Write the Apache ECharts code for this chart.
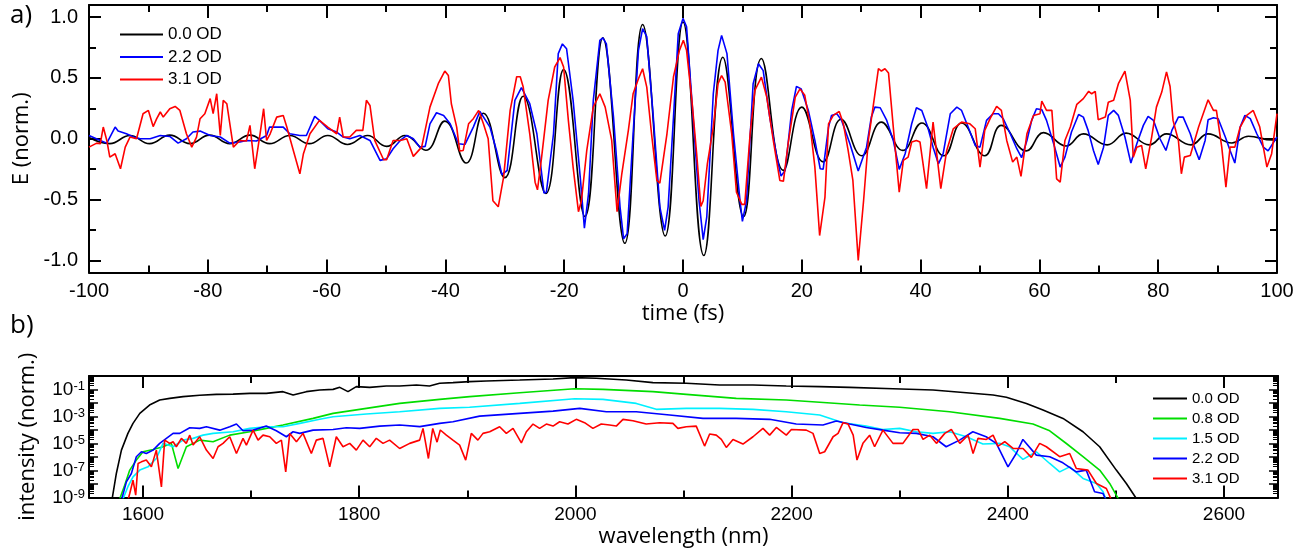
<!DOCTYPE html>
<html><head><meta charset="utf-8">
<script src="https://cdn.jsdelivr.net/npm/echarts@6/dist/echarts.min.js"></script>
<style>html,body{margin:0;padding:0;background:#fff}#c{width:1307px;height:550px}</style>
</head><body><div id="c"></div>
<script>
// ---------- panel a: electric field E(t), [time fs, E norm.] ----------
const e00 = [[-100,0.01],[-96.5,-0.04],[-93.1,0.027],[-89.8,-0.04],[-86.4,0.03],[-83.0,-0.04],[-79.7,0.03],[-76.3,-0.04],[-72.9,0.03],[-69.6,-0.04],[-66.2,0.027],[-62.9,-0.04],[-59.8,0.027],[-56.5,-0.047],[-53.1,0.027],[-49.9,-0.063],[-46.8,0.027],[-43.3,-0.095],[-40.1,0.145],[-36.5,-0.2],[-33.6,0.21],[-30.0,-0.32],[-26.9,0.35],[-23.1,-0.45],[-20.1,0.57],[-16.5,-0.64],[-13.5,0.83],[-9.8,-0.86],[-6.8,0.94],[-3.0,-0.80],[0.0,0.96],[3.5,-0.96],[6.7,0.67],[10.2,-0.64],[13.2,0.66],[16.9,-0.26],[20.0,0.26],[23.6,-0.19],[26.6,0.16],[30.1,-0.14],[33.4,0.137],[37.0,-0.096],[40.2,0.13],[43.9,-0.14],[46.9,0.13],[50.8,-0.14],[53.6,0.11],[57.8,-0.1],[60.7,0.05],[64.5,-0.06],[67.4,0.04],[71.4,-0.05],[74.6,0.046],[78.5,-0.05],[81.4,0.04],[85.5,-0.05],[88.4,0.04],[92.4,-0.035],[95.2,0.02],[99.2,-0.01],[100,-0.01]];

const e22 = [[-100,0.027],[-98.1,-0.014],[-97.0,-0.036],[-95.6,0.096],[-95.1,0.063],[-93.7,0.041],[-92.5,0.014],[-91.4,0],[-89.7,0],[-88.0,0.027],[-86.4,0.019],[-85.0,-0.036],[-83.6,0],[-82.5,0.055],[-81.3,0.063],[-79.6,0.027],[-77.9,0.014],[-76.3,-0.036],[-74.6,-0.027],[-73.5,-0.014],[-71.8,-0.019],[-70.1,0.027],[-69.6,0.096],[-67.3,0.096],[-66.2,0.041],[-64.5,0.027],[-63.4,0.027],[-62.0,0.184],[-61.2,0.151],[-59.8,0.082],[-58.3,0.055],[-57.2,0.014],[-56.1,0],[-54.4,0.027],[-52.7,-0.014],[-51.0,-0.178],[-49.9,-0.165],[-48.8,-0.082],[-47.6,-0.014],[-46.5,0.027],[-45.4,0],[-44.3,-0.069],[-43.4,-0.063],[-42.6,0.123],[-41.5,0.214],[-40.3,0.192],[-39.2,0.123],[-37.8,-0.041],[-36.7,-0.047],[-35.3,0.096],[-34.2,0.225],[-32.5,0.096],[-31.4,-0.096],[-30.5,-0.294],[-29.6,-0.261],[-28.3,0.316],[-27.2,0.42],[-25.8,0.288],[-24.6,0.041],[-23.4,-0.447],[-23.0,-0.44],[-21.8,0.041],[-21.0,0.70],[-20.3,0.78],[-19.6,0.74],[-18.5,0.316],[-17.3,-0.315],[-16.6,-0.735],[-15.9,-0.45],[-15.1,0.316],[-14.0,0.81],[-13.5,0.83],[-12.9,0.78],[-11.7,0.178],[-10.6,-0.56],[-10.0,-0.823],[-9.4,-0.78],[-8.4,0.041],[-7.5,0.727],[-6.8,0.905],[-6.1,0.84],[-5.0,0.178],[-3.9,-0.56],[-3.1,-0.754],[-2.5,-0.56],[-1.6,0.178],[-0.8,0.864],[0,0.99],[0.6,0.92],[1.7,0.178],[2.7,-0.51],[3.4,-0.83],[4.0,-0.645],[5.1,0.37],[5.9,0.727],[6.5,0.85],[7.4,0.70],[8.5,0.041],[9.6,-0.51],[10.0,-0.68],[10.7,-0.51],[11.8,0.45],[12.7,0.617],[13.5,0.56],[14.6,0.178],[15.8,-0.151],[16.5,-0.307],[17.2,-0.261],[18.3,0.233],[19.1,0.43],[19.9,0.41],[21.1,0.233],[22.2,-0.014],[23.1,-0.247],[23.6,-0.25],[24.5,0.096],[25.0,0.192],[25.9,0.206],[26.7,0.151],[28.1,-0.041],[29.5,-0.266],[30.9,-0.069],[31.7,0.178],[32.3,0.26],[33.2,0.255],[34.3,0.151],[35.4,-0.014],[36.4,-0.252],[37.4,-0.123],[38.5,0.123],[39.3,0.255],[40.2,0.233],[41.2,0.096],[42.1,-0.069],[43.0,-0.206],[43.8,-0.123],[45.0,0.206],[46.1,0.26],[46.9,0.233],[48.0,0.096],[49.2,-0.055],[50.0,-0.069],[51.1,0.151],[52.2,0.206],[53.1,0.206],[53.9,0.165],[55.1,0.041],[56.2,-0.082],[57.0,-0.156],[57.9,-0.014],[58.7,0.151],[59.5,0.247],[60.4,0.239],[61.2,0.151],[62.4,-0.041],[63.5,-0.233],[64.3,-0.151],[65.4,0.055],[66.6,0.20],[67.4,0.178],[68.2,0.069],[69.1,-0.096],[69.9,-0.211],[70.8,-0.069],[71.6,0.192],[72.5,0.233],[73.3,0.192],[74.4,0.014],[75.4,-0.2],[76.4,-0.041],[77.5,0.11],[78.3,0.184],[79.2,0.151],[80.3,0],[81.3,-0.096],[82.3,0.069],[83.4,0.178],[84.2,0.178],[85.4,0.041],[86.1,-0.069],[86.9,-0.173],[87.9,-0.014],[88.4,0.156],[89.3,0.173],[90.1,0.165],[91.3,0.014],[92.1,-0.096],[92.9,-0.2],[93.8,0.096],[94.6,0.192],[95.5,0.165],[96.6,0.041],[97.7,-0.069],[98.5,-0.1],[100,0.014]];

const e31 = [[-100,-0.069],[-98.7,-0.036],[-98.1,-0.041],[-97.6,0.096],[-97.0,-0.014],[-96.5,-0.151],[-95.6,-0.123],[-94.7,-0.247],[-93.9,-0.069],[-93.1,0.014],[-92.0,0],[-90.9,0.206],[-90.0,0.233],[-89.2,0.10],[-88.6,0.165],[-88.0,0.22],[-87.5,0.178],[-86.4,0.247],[-85.5,0.266],[-84.7,0.233],[-83.6,0.041],[-82.7,-0.069],[-81.9,0.014],[-81.3,0.165],[-80.5,0.206],[-79.6,0.33],[-79.1,0.206],[-78.5,0.37],[-77.9,0.027],[-77.4,0.316],[-76.8,0.288],[-75.7,-0.069],[-74.6,-0.014],[-73.5,-0.019],[-72.9,0.11],[-72.1,-0.247],[-71.2,0.041],[-70.6,0.247],[-70.1,-0.014],[-69.5,0.041],[-68.4,0.178],[-67.3,0.192],[-66.7,0.096],[-65.6,-0.096],[-64.5,-0.288],[-63.9,-0.123],[-62.8,0.041],[-61.2,0.151],[-59.8,0.096],[-58.3,0.041],[-57.8,0.178],[-57.2,0.014],[-56.1,0.014],[-55.0,0.069],[-53.9,0.069],[-53.3,0.316],[-52.7,0.274],[-51.9,-0.014],[-50.4,-0.173],[-49.9,-0.173],[-48.8,-0.014],[-47.6,-0.014],[-46.5,0],[-45.4,-0.145],[-44.0,-0.069],[-42.6,0.26],[-41.2,0.453],[-40.1,0.557],[-39.5,0.52],[-39.0,0.288],[-38.1,0.096],[-37.6,-0.1],[-37.0,-0.096],[-36.1,0.123],[-35.3,0.165],[-34.4,0.233],[-33.6,0.123],[-32.8,0],[-32.0,-0.51],[-31.1,-0.56],[-30.2,-0.315],[-29.1,0.233],[-28.0,0.51],[-27.4,0.51],[-26.9,0.425],[-25.8,0.041],[-24.9,-0.357],[-24.5,-0.42],[-23.8,-0.151],[-22.7,0.316],[-21.6,0.59],[-20.7,0.667],[-20.1,0.59],[-19.3,0.151],[-18.5,-0.233],[-17.6,-0.60],[-17.1,-0.51],[-16.2,-0.096],[-15.1,0.26],[-14.0,0.37],[-13.1,0.26],[-12.0,-0.014],[-11.1,-0.60],[-10.3,-0.288],[-9.2,0.069],[-8.4,0.37],[-7.5,0.494],[-6.8,0.576],[-6.1,0.425],[-5.3,0.041],[-4.4,-0.343],[-3.9,-0.365],[-2.7,0.041],[-1.6,0.51],[-0.6,0.727],[0.06,0.81],[0.6,0.727],[1.5,0.316],[2.3,-0.123],[3.0,-0.557],[3.4,-0.51],[4.1,-0.206],[5.1,0.096],[5.9,0.453],[6.5,0.52],[7.1,0.466],[8.2,0.041],[9.0,-0.44],[9.9,-0.54],[10.4,-0.54],[11.3,0.041],[12.1,0.398],[13.2,0.507],[14.1,0.343],[15.2,-0.014],[16.3,-0.343],[16.9,-0.35],[17.7,-0.041],[18.9,0.343],[19.7,0.41],[20.5,0.357],[21.4,0.11],[22.2,-0.233],[23.0,-0.796],[23.9,-0.48],[24.5,0.123],[25.3,0.192],[26.3,0.225],[27.0,0.123],[27.8,-0.096],[28.6,-0.343],[29.5,-1.0],[30.4,-0.51],[31.2,-0.014],[32.0,0.26],[32.9,0.576],[33.4,0.557],[34.0,0.576],[34.6,0.54],[35.4,0.096],[36.4,-0.44],[37.1,-0.178],[37.9,-0.151],[38.5,-0.027],[39.3,-0.014],[39.9,-0.027],[41.0,-0.41],[42.1,0.137],[43.4,-0.41],[44.4,-0.096],[45.5,0.082],[46.9,0.137],[48.3,0.123],[49.2,0.082],[50.0,-0.233],[50.8,0.069],[51.7,0.165],[52.8,0.266],[53.6,0.233],[54.5,-0.014],[55.5,-0.192],[56.2,-0.151],[56.9,-0.31],[57.9,0.041],[59.0,0.192],[60.1,0.206],[60.4,0.31],[61.2,0.233],[62.1,0.233],[62.9,-0.33],[63.5,-0.357],[64.3,-0.014],[65.2,0.096],[66.3,0.283],[67.4,0.33],[68.3,0.39],[68.8,0.37],[69.4,0.39],[69.9,0.156],[71.1,0.178],[71.6,0.30],[72.5,0.316],[73.3,0.453],[74.4,0.557],[75.3,0.316],[75.8,-0.151],[76.4,-0.069],[77.2,-0.055],[77.9,-0.247],[78.9,0.014],[79.7,0.26],[80.6,0.384],[81.4,0.55],[82.0,0.43],[82.5,0.151],[83.4,-0.014],[83.9,-0.288],[84.4,-0.151],[85.4,-0.137],[86.8,0.096],[88.4,0.32],[89.3,0.233],[89.8,0.233],[90.7,-0.069],[91.4,-0.398],[92.1,-0.069],[92.9,-0.069],[93.8,0.096],[94.9,0.192],[96.0,0.233],[97.1,0.096],[98.3,-0.233],[99.1,-0.123],[100,0.206]];

// ---------- panel b: spectra, [wavelength nm, log10(intensity)] ----------
const s00 = [[1571,-9.3],[1575.3,-7.22],[1580,-5.49],[1586,-4.25],[1590.7,-3.51],[1597,-2.77],[1606,-2.15],[1615.4,-1.78],[1624.7,-1.66],[1637,-1.53],[1652.4,-1.43],[1667.8,-1.36],[1683.3,-1.34],[1698.7,-1.29],[1714,-1.29],[1729.5,-1.16],[1738.8,-1.41],[1751,-1.16],[1763.4,-1.04],[1775.8,-0.99],[1782,-0.84],[1789.6,-1.16],[1797.3,-0.79],[1809.7,-0.84],[1825,-0.74],[1837.4,-0.74],[1852.9,-0.67],[1865,-0.74],[1874.4,-0.54],[1886.7,-0.49],[1902,-0.42],[1917.6,-0.37],[1948.5,-0.30],[1979.3,-0.22],[1999.3,-0.12],[2019.4,-0.17],[2047,-0.30],[2071.7,-0.49],[2102.6,-0.54],[2133.4,-0.67],[2164.3,-0.67],[2195.1,-0.74],[2226,-0.79],[2253.7,-0.84],[2293.8,-0.94],[2330.8,-1.04],[2361.7,-1.24],[2386.4,-1.41],[2398.7,-1.58],[2417.2,-2.03],[2432.6,-2.52],[2451.1,-3.14],[2469.6,-4.13],[2485,-5.24],[2500.4,-6.97],[2509.7,-7.96],[2518.3,-9.0],[2520,-9.3]];

const s08 = [[1578,-9.2],[1583,-8.09],[1587.7,-6.97],[1593.8,-6.23],[1600,-5.61],[1609.3,-5.44],[1618.5,-5.24],[1626.2,-4.99],[1632.4,-6.85],[1640.1,-5.24],[1652.4,-4.75],[1664.8,-4.87],[1680.2,-4.38],[1698.7,-4.13],[1714,-3.88],[1729.5,-3.63],[1757.3,-3.14],[1775.8,-2.77],[1806.6,-2.40],[1837.4,-2.03],[1874.4,-1.73],[1902.2,-1.53],[1948.4,-1.24],[1999.3,-0.94],[2025.5,-0.99],[2071.7,-1.16],[2102.6,-1.36],[2148.8,-1.66],[2195.1,-1.78],[2226,-1.95],[2263,-2.15],[2300,-2.32],[2346.2,-2.65],[2392.5,-3.14],[2423.3,-3.56],[2438.8,-4.06],[2454.2,-5.0],[2469.6,-5.98],[2485,-6.97],[2494.3,-7.96],[2503,-9.2]];

const s15 = [[1581,-9.2],[1586,-8.2],[1590.7,-7.47],[1597,-6.97],[1604.6,-6.73],[1612.3,-6.11],[1618.5,-4.99],[1627.8,-5.24],[1637,-4.75],[1646.3,-4.62],[1655.5,-4.38],[1664.8,-4.25],[1683.3,-4.13],[1698.7,-3.88],[1714,-3.76],[1729.5,-3.76],[1745,-3.51],[1763.4,-3.21],[1775.8,-3.02],[1806.6,-2.82],[1837.4,-2.65],[1874.4,-2.40],[1902,-2.32],[1948.5,-2.03],[1999.3,-1.68],[2025.5,-1.73],[2056.3,-2.03],[2074.8,-2.47],[2102.6,-2.40],[2133.4,-2.40],[2164.3,-2.47],[2195,-2.65],[2226,-2.89],[2247.6,-3.46],[2269,-3.71],[2284.5,-3.96],[2300,-3.88],[2315.4,-4.13],[2330.8,-4.25],[2346.2,-4.13],[2361.7,-4.5],[2377,-5.04],[2392.5,-4.99],[2401.7,-5.24],[2414,-6.18],[2426.4,-5.61],[2438.8,-6.48],[2448,-7.1],[2457.3,-6.73],[2469.6,-7.59],[2482,-7.96],[2488.2,-8.58],[2491,-9.2]];

const s22 = [[1580,-9.2],[1584.6,-7.84],[1589.2,-7.22],[1593.8,-5.98],[1598.5,-5.61],[1603,-5.74],[1609.3,-5.49],[1615.4,-4.99],[1621.6,-4.62],[1627.8,-4.25],[1634,-4.25],[1643.2,-3.83],[1652.4,-3.88],[1658.6,-3.76],[1671,-4.01],[1680.2,-3.76],[1686.4,-3.56],[1692.5,-4.06],[1701.8,-4.01],[1714,-3.71],[1723.3,-4.06],[1732.6,-4.50],[1738.8,-4.13],[1745,-4.25],[1757.3,-4.01],[1775.8,-3.96],[1788.1,-3.83],[1800.4,-3.88],[1819,-3.71],[1837.4,-3.63],[1856,-3.75],[1874.4,-3.51],[1886.7,-3.39],[1911.4,-2.97],[1948.4,-2.77],[1979.3,-2.60],[2004,-2.40],[2028.6,-2.65],[2056.3,-2.65],[2087.2,-2.89],[2118,-3.14],[2148.8,-3.14],[2179.7,-3.21],[2204.3,-3.56],[2229,-3.63],[2241.4,-3.34],[2253.7,-3.56],[2269,-3.81],[2284.5,-4.01],[2300,-4.20],[2315.4,-4.25],[2330.8,-4.5],[2343,-5.24],[2355.4,-4.75],[2367.7,-4.13],[2380,-4.5],[2389.4,-4.99],[2400.2,-6.73],[2407.8,-5.74],[2414,-4.70],[2426.4,-5.86],[2438.8,-5.98],[2451,-6.43],[2463.4,-7.10],[2472.6,-6.97],[2480.3,-8.58],[2488,-8.70],[2491,-9.2]];

const s31 = [[1586,-9.2],[1587.7,-8.7],[1590.7,-7.72],[1593.2,-8.83],[1595.4,-6.48],[1598.5,-6.36],[1603,-6.23],[1607.7,-6.73],[1612.3,-5.49],[1617,-8.21],[1620,-4.75],[1624.7,-4.99],[1627.8,-4.87],[1630.8,-5.24],[1635.5,-4.62],[1640,-4.99],[1643.2,-4.38],[1646.3,-5.12],[1652.4,-4.50],[1658.6,-5.49],[1664.8,-6.11],[1669.4,-5.24],[1674,-4.99],[1680.2,-4.50],[1686.4,-5.74],[1692.5,-4.62],[1695.6,-5.12],[1701.8,-4.01],[1706.4,-4.75],[1711,-4.38],[1717.2,-4.50],[1723.3,-4.99],[1728,-4.75],[1732,-7.10],[1735.7,-4.25],[1741.9,-4.87],[1748,-4.25],[1755.7,-5.74],[1760.3,-4.75],[1766.5,-4.62],[1772.7,-6.73],[1778.8,-4.5],[1785,-5.24],[1791.2,-4.99],[1797.3,-5.49],[1803.5,-4.75],[1809.7,-5.24],[1815.8,-4.62],[1822,-4.99],[1828.1,-4.75],[1837.4,-5.37],[1846.7,-4.99],[1855.9,-4.75],[1859,-3.88],[1864,-6.11],[1868,-3.88],[1872,-4.9],[1875,-4.0],[1880.6,-4.38],[1886.7,-4.75],[1892.9,-5.12],[1898.5,-6.23],[1903.7,-4.25],[1909.8,-4.75],[1914.5,-4.25],[1920.7,-4.13],[1929.9,-3.76],[1936.1,-4.25],[1942.3,-3.88],[1950,-4.95],[1954.6,-4.13],[1960.8,-3.56],[1966.9,-3.88],[1973.1,-3.56],[1979.3,-3.71],[1985.4,-3.39],[1993.1,-3.56],[2000.8,-3.21],[2008.5,-3.46],[2016.2,-3.88],[2023.9,-3.56],[2031.6,-3.63],[2037.8,-3.71],[2044,-3.21],[2053.2,-3.31],[2065.5,-3.56],[2077.9,-3.46],[2090.2,-3.51],[2094.8,-3.88],[2102.6,-3.76],[2111.8,-3.71],[2119.5,-5.19],[2124.2,-4.30],[2130.3,-4.38],[2135,-4.70],[2139.6,-5.29],[2145.8,-4.70],[2155,-5.04],[2164.3,-4.50],[2173.5,-3.88],[2179.7,-4.38],[2185.9,-3.81],[2195.1,-4.38],[2199.8,-3.96],[2213.6,-4.01],[2219.8,-4.25],[2226,-5.74],[2230.6,-5.61],[2238.4,-4.50],[2243,-4.25],[2247.6,-3.46],[2252.3,-3.56],[2257,-4.38],[2260.5,-6.23],[2266,-4.99],[2272.2,-4.38],[2276.8,-5.24],[2284.5,-4.01],[2293.8,-4.99],[2303,-4.99],[2312.3,-3.96],[2317,-3.96],[2321.6,-4.70],[2327.8,-4.38],[2334,-4.99],[2341.7,-4.25],[2347.8,-3.96],[2355.6,-4.99],[2363.3,-4.38],[2367.9,-5.74],[2372.5,-4.62],[2380.2,-4.70],[2386.4,-4.38],[2391,-5.19],[2397.2,-4.87],[2404.9,-5.37],[2414.1,-5.37],[2421.8,-6.03],[2429.5,-4.99],[2435.7,-5.24],[2448,-5.98],[2457.3,-5.74],[2463.4,-6.85],[2474.2,-6.97],[2482,-7.96],[2491.2,-8.33],[2496,-9.2]];

// ---------- labels / ticks ----------
const namesA = ['0.0 OD', '2.2 OD', '3.1 OD'];
const namesB = ['0.0 OD', '0.8 OD', '1.5 OD', '2.2 OD', '3.1 OD'];
const colorsA = ['#000000', '#0000ff', '#ff0000'];
const colorsB = ['#000000', '#00dd00', '#00f0ff', '#0000ff', '#ff0000'];
const yTicksA = [-1, -0.5, 0, 0.5, 1];
const yMinorA = [-0.75, -0.25, 0.25, 0.75];
const xTicksB = [1600, 1800, 2000, 2200, 2400, 2600];
const xMinorB = [1700, 1900, 2100, 2300, 2500];
const yDecadesB = [1e-9, 1e-8, 1e-7, 1e-6, 1e-5, 1e-4, 1e-3, 1e-2, 1e-1, 1];
const yLabelsB = [1e-9, 1e-7, 1e-5, 1e-3, 1e-1];

const yMinorB = [];
for (let e = -9; e < 0; e++) for (let k = 2; k <= 9; k++) yMinorB.push(k * Math.pow(10, e));

const TF = '"Liberation Sans", Arial, sans-serif';
const NF = '"Open Sans", sans-serif';
const lineS = { color: '#000', width: 2 };
const noLine = { show: false, onZero: false };

function ax(grid, pos, opts) {
  return Object.assign({
    type: 'value', gridIndex: grid, position: pos,
    axisLine: { show: true, onZero: false, lineStyle: lineS },
    axisTick: { show: true, inside: true, length: 12, lineStyle: lineS },
    axisLabel: { show: false },
    splitLine: { show: false }
  }, opts);
}

const xAxes = [
  ax(0, 'bottom', { min: -100, max: 100, interval: 20,
    minorTick: { show: true, splitNumber: 2, length: 7, lineStyle: lineS },
    axisTick: { show: true, inside: true, length: 13, lineStyle: lineS },
    axisLabel: { show: true, fontSize: 20, color: '#000', fontFamily: TF, margin: 9 },
    name: 'time (fs)', nameLocation: 'middle', nameGap: 24,
    nameTextStyle: { fontSize: 22, color: '#000', fontFamily: NF } }),
  ax(0, 'top', { min: -100, max: 100, interval: 20,
    minorTick: { show: true, splitNumber: 2, length: 7, lineStyle: lineS },
    axisTick: { show: true, inside: true, length: 13, lineStyle: lineS } }),
  ax(1, 'bottom', { min: 1550, max: 2650,
    axisTick: { show: true, inside: true, length: 12, lineStyle: lineS, customValues: xTicksB },
    axisLabel: { show: true, fontSize: 19, color: '#000', fontFamily: TF, margin: 8, customValues: xTicksB,
      formatter: v => String(v) },
    name: 'wavelength (nm)', nameLocation: 'middle', nameGap: 22,
    nameTextStyle: { fontSize: 22, color: '#000', fontFamily: NF } }),
  ax(1, 'bottom', { min: 1550, max: 2650, axisLine: noLine,
    axisTick: { show: true, inside: true, length: 7, lineStyle: lineS, customValues: xMinorB } }),
  ax(1, 'top', { min: 1550, max: 2650,
    axisTick: { show: true, inside: true, length: 12, lineStyle: lineS, customValues: xTicksB } }),
  ax(1, 'top', { min: 1550, max: 2650, axisLine: noLine,
    axisTick: { show: true, inside: true, length: 7, lineStyle: lineS, customValues: xMinorB } })
];

function logLabel(v) {
  const e = Math.round(Math.log10(v));
  return '{b|10}{s|' + e + '}';
}
const logTickS = { color: '#000', width: 1.5 };
const logMinS = { color: '#000', width: 1 };

const yAxes = [
  ax(0, 'left', { min: -1.1, max: 1.1,
    axisTick: { show: true, inside: true, length: 12, lineStyle: lineS, customValues: yTicksA },
    axisLabel: { show: true, fontSize: 20, color: '#000', fontFamily: TF, margin: 11, customValues: yTicksA,
      formatter: v => v.toFixed(1) },
    name: 'E (norm.)', nameLocation: 'middle', nameGap: 50,
    nameTextStyle: { fontSize: 22, color: '#000', fontFamily: NF } }),
  ax(0, 'left', { min: -1.1, max: 1.1, axisLine: noLine,
    axisTick: { show: true, inside: true, length: 7, lineStyle: lineS, customValues: yMinorA } }),
  ax(0, 'right', { min: -1.1, max: 1.1,
    axisTick: { show: true, inside: true, length: 12, lineStyle: lineS, customValues: yTicksA } }),
  ax(0, 'right', { min: -1.1, max: 1.1, axisLine: noLine,
    axisTick: { show: true, inside: true, length: 7, lineStyle: lineS, customValues: yMinorA } }),
  ax(1, 'left', { type: 'log', logBase: 10, min: 1e-9, max: 1,
    axisTick: { show: true, inside: true, length: 9, lineStyle: logTickS, customValues: yDecadesB },
    axisLabel: { show: true, color: '#000', margin: 4, customValues: yLabelsB, formatter: logLabel,
      rich: { b: { fontSize: 19, fontFamily: TF, color: '#000', lineHeight: 20 },
              s: { fontSize: 13, fontFamily: TF, color: '#000', lineHeight: 13, verticalAlign: 'top' } } },
    name: 'intensity (norm.)', nameLocation: 'middle', nameGap: 50,
    nameTextStyle: { fontSize: 22, color: '#000', fontFamily: NF } }),
  ax(1, 'left', { type: 'log', logBase: 10, min: 1e-9, max: 1, axisLine: noLine,
    axisTick: { show: true, inside: true, length: 5, lineStyle: logMinS, customValues: yMinorB } }),
  ax(1, 'right', { type: 'log', logBase: 10, min: 1e-9, max: 1,
    axisTick: { show: true, inside: true, length: 9, lineStyle: logTickS, customValues: yDecadesB } }),
  ax(1, 'right', { type: 'log', logBase: 10, min: 1e-9, max: 1, axisLine: noLine,
    axisTick: { show: true, inside: true, length: 5, lineStyle: logMinS, customValues: yMinorB } })
];

function lineSeries(name, data, color, xi, yi, extra) {
  return Object.assign({
    type: 'line', name: name, data: data, xAxisIndex: xi, yAxisIndex: yi,
    symbol: 'none', showSymbol: false, clip: true,
    lineStyle: { color: color, width: 1.6 }, itemStyle: { color: color },
    emphasis: { disabled: true }, animation: false
  }, extra || {});
}
const toPow = arr => arr.map(p => [p[0], Math.pow(10, p[1])]);

const series = [
  lineSeries('0.0 OD', e00, colorsA[0], 0, 0, { smooth: 0.45 }),
  lineSeries('2.2 OD', e22, colorsA[1], 0, 0),
  lineSeries('3.1 OD', e31, colorsA[2], 0, 0),
  lineSeries('0.0 OD', toPow(s00), colorsB[0], 2, 4),
  lineSeries('0.8 OD', toPow(s08), colorsB[1], 2, 4),
  lineSeries('1.5 OD', toPow(s15), colorsB[2], 2, 4),
  lineSeries('2.2 OD', toPow(s22), colorsB[3], 2, 4),
  lineSeries('3.1 OD', toPow(s31), colorsB[4], 2, 4)
];

const chart = echarts.init(document.getElementById('c'), null, { renderer: 'canvas' });
chart.setOption({
  animation: false,
  backgroundColor: '#fff',
  title: [
    { text: 'a)', left: 10, top: 3, padding: 0, textStyle: { fontSize: 26, fontWeight: 'normal', color: '#000', fontFamily: NF } },
    { text: 'b)', left: 10, top: 313, padding: 0, textStyle: { fontSize: 26, fontWeight: 'normal', color: '#000', fontFamily: NF } }
  ],
  grid: [
    { left: 89, right: 30, top: 5, height: 267.5 },
    { left: 89, right: 29, top: 376, height: 121.5 }
  ],
  legend: [
    { data: namesA, orient: 'vertical', left: 120, top: 26, padding: 0, icon: 'rect', itemWidth: 43, itemHeight: 2, itemGap: 5.5,
      textStyle: { fontSize: 17, lineHeight: 17, color: '#000', fontFamily: TF }, selectedMode: false },
    { data: namesB, orient: 'vertical', left: 1153, top: 391, padding: 0, icon: 'rect', itemWidth: 34, itemHeight: 2, itemGap: 5,
      textStyle: { fontSize: 15, lineHeight: 15, color: '#000', fontFamily: TF }, selectedMode: false }
  ],
  xAxis: xAxes,
  yAxis: yAxes,
  series: series
});
</script></body></html>
